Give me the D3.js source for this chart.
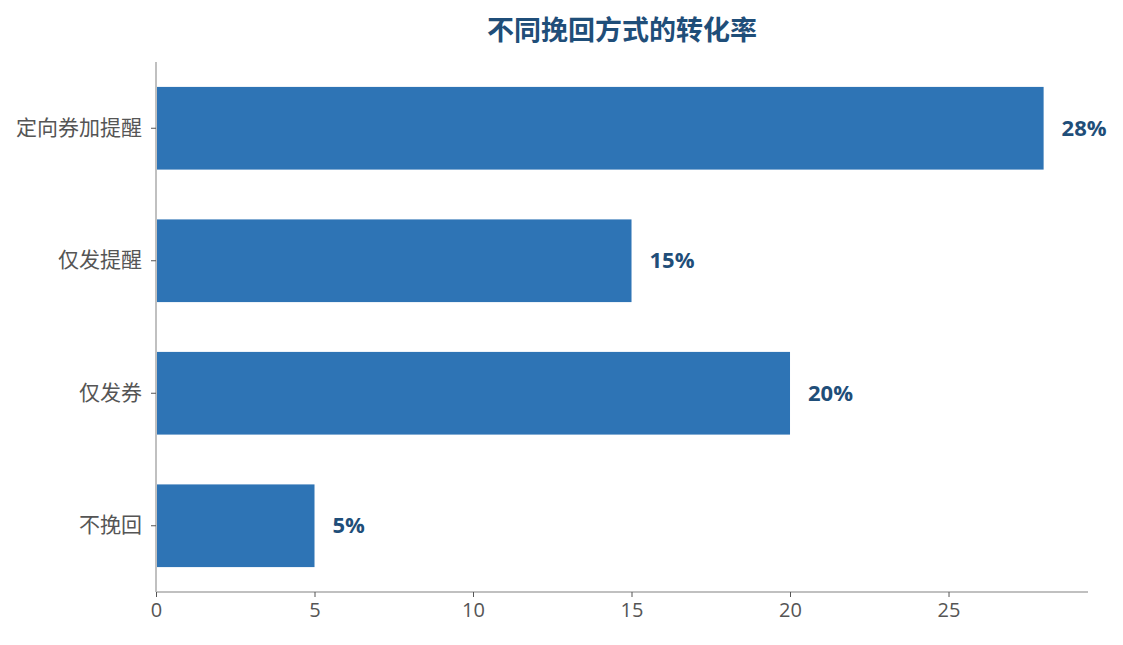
<!DOCTYPE html>
<html>
<head>
<meta charset="utf-8">
<script src="https://cdn.jsdelivr.net/npm/d3@7"></script>
<style>
  body { margin: 0; background: #fff; }
  svg text { font-family: "Open Sans", "Noto Sans CJK SC", sans-serif; }
</style>
</head>
<body>
<div id="chart"></div>
<script>
// data
var categories = ["定向券加提醒", "仅发提醒", "仅发券", "不挽回"];
var rates = [28, 15, 20, 5];
var xTicks = [0, 5, 10, 15, 20, 25];
var title = "不同挽回方式的转化率";

var width = 1123, height = 645;
var margin = {top: 62, right: 35, bottom: 53, left: 156};

var svg = d3.select("#chart").append("svg")
    .attr("width", width).attr("height", height);

var g = svg.append("g").attr("transform", "translate(" + margin.left + "," + margin.top + ")");
var w = width - margin.left - margin.right,
    h = height - margin.top - margin.bottom;

var x = d3.scaleLinear().domain([0, d3.max(rates) * 1.05]).range([0, w]);
var y = d3.scaleBand().domain(categories).range([0, h]).paddingInner(0.376).paddingOuter(0.188);

// bars
g.selectAll("rect.bar")
    .data(rates)
    .enter().append("rect")
    .attr("class", "bar")
    .attr("x", x(0))
    .attr("y", function(d, i) { return y(categories[i]); })
    .attr("width", function(d) { return x(d) - x(0); })
    .attr("height", y.bandwidth())
    .attr("fill", "#2e74b5");

// value labels
g.selectAll("text.val")
    .data(rates)
    .enter().append("text")
    .attr("class", "val")
    .attr("x", function(d) { return x(d) + 18; })
    .attr("y", function(d, i) { return y(categories[i]) + y.bandwidth() / 2; })
    .attr("dy", "0.35em")
    .style("font-size", "22px")
    .style("font-weight", "bold")
    .style("fill", "#1f4e79")
    .text(function(d) { return d + "%"; });

// axes
var xAxis = g.append("g")
    .attr("transform", "translate(0," + h + ")")
    .call(d3.axisBottom(x).tickValues(xTicks).tickSize(5).tickPadding(6));
var yAxis = g.append("g")
    .call(d3.axisLeft(y).tickSize(5).tickPadding(9));

[xAxis, yAxis].forEach(function(a) {
  a.select(".domain").attr("stroke", "#c0c0c0").attr("stroke-width", 2);
  a.selectAll(".tick line").attr("stroke", "#555");
  a.selectAll(".tick text").style("font-size", "20px").style("fill", "#555");
});
yAxis.selectAll(".tick text").style("font-size", "21px");
xAxis.select(".domain").attr("d", "M0,0H" + w);
yAxis.select(".domain").attr("d", "M0,0V" + h);

// title
svg.append("text")
    .attr("x", margin.left + w / 2)
    .attr("y", 40)
    .attr("text-anchor", "middle")
    .style("font-size", "27px")
    .style("font-weight", "bold")
    .style("fill", "#1f4e79")
    .text(title);
</script>
</body>
</html>
